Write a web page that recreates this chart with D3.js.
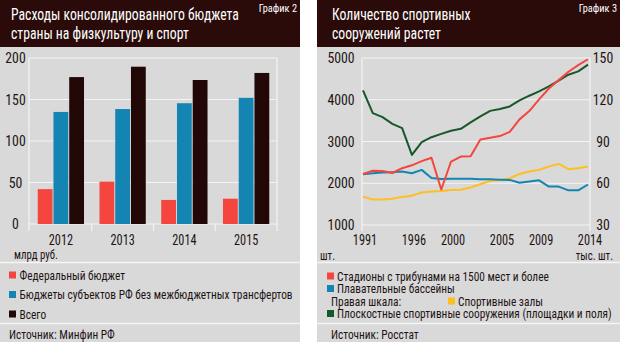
<!DOCTYPE html>
<html>
<head>
<meta charset="utf-8">
<script src="https://cdn.jsdelivr.net/npm/d3@7"></script>
<style>
  html, body { margin: 0; padding: 0; background: #ffffff; }
  svg { display: block; }
  text { font-family: "Liberation Sans Narrow", "Roboto Condensed", "DejaVu Sans Condensed", "Arial Narrow", sans-serif; }
</style>
</head>
<body>
<svg id="chart" width="620" height="342"></svg>
<script>
// ---- Chart 2: consolidated budget spending on sport, bn rub ----
const budgetYears = ["2012", "2013", "2014", "2015"];
const federalBudget = [42, 51, 29, 30.5];
const regionalBudget = [135, 138.5, 145.5, 152];
const totalBudget = [177, 189.5, 173.5, 182];
const budgetTicks = [0, 50, 100, 150, 200];
const budgetSeries = ["Федеральный бюджет", "Бюджеты субъектов РФ без межбюджетных трансфертов", "Всего"];

// ---- Chart 3: number of sports facilities ----
const facilityYears = [1991, 1992, 1993, 1994, 1995, 1996, 1997, 1998, 1999, 2000, 2001, 2002,
                       2003, 2004, 2005, 2006, 2007, 2008, 2009, 2010, 2011, 2012, 2013, 2014];
const stadiums = [2220, 2300, 2295, 2245, 2360, 2430, 2530, 2610, 1850, 2520, 2640, 2645,
                  3050, 3090, 3130, 3230, 3530, 3730, 4010, 4270, 4470, 4670, 4830, 4970];
const pools = [2215, 2240, 2255, 2265, 2280, 2240, 2320, 2125, 2100, 2105, 2105, 2105,
               2095, 2095, 2085, 2080, 2010, 2040, 2070, 1920, 1920, 1830, 1830, 1970];
// right scale, thousands
const sportsHalls = [50.4, 48.3, 48.3, 48.8, 50.2, 51.1, 53.3, 54.0, 54.5, 55.2, 55.3, 56.9,
                     59.3, 61.6, 62.4, 63.6, 66.7, 68.4, 69.6, 72.0, 73.9, 70.1, 70.8, 72.0];
const flatFacilities = [126.7, 110.4, 107.5, 102.7, 99.6, 80.4, 89.5, 93.1, 95.5, 97.7, 99.1, 103.7,
                        108.0, 112.0, 113.3, 115.2, 119.5, 122.9, 126.0, 129.6, 133.7, 138.0, 140.4, 145.2];
const facilityYearTicks = [1991, 1996, 2000, 2005, 2009, 2014];
const leftFacilityTicks = [1000, 2000, 3000, 4000, 5000];
const rightFacilityTicks = [30, 60, 90, 120, 150];

const C = {
  header: "#2a0b09",
  panel: "#d9d9d9",
  grid: "#f4f4f4",
  red: "#f4463f",
  blue: "#1485b2",
  dark: "#210706",
  yellow: "#fdbf22",
  green: "#17582b",
  text: "#1e1414"
};

const svg = d3.select("#chart");

// Text helper: the newspaper face is narrower than the available condensed fonts,
// so labels are squeezed horizontally by `sx`.
function label(g, x, y, str, size, opts = {}) {
  const sx = opts.sx ?? 1;
  return g.append("text")
    .attr("transform", `translate(${x},${y}) scale(${sx},1)`)
    .attr("text-anchor", opts.anchor || "start")
    .attr("font-size", size)
    .attr("fill", opts.fill || C.text)
    .text(str);
}

function panel(g, x, w, title, tag) {
  g.append("rect").attr("x", x).attr("y", 0).attr("width", w).attr("height", 342).attr("fill", C.panel);
  g.append("rect").attr("x", x).attr("y", 0).attr("width", w).attr("height", 47).attr("fill", C.header);
  title.forEach((line, i) => {
    label(g, x + (x > 0 ? 15 : 11), 20 + i * 19, line, 16.5, { sx: 0.83, fill: "#ffffff" });
  });
  label(g, x + w - 3, 12, tag, 11.5, { sx: 0.9, fill: "#ffffff", anchor: "end" });
  g.append("line").attr("x1", x).attr("x2", x + w).attr("y1", 262.5).attr("y2", 262.5)
    .attr("stroke", "#f6f6f6").attr("stroke-width", 1.5);
  g.append("line").attr("x1", x).attr("x2", x + w).attr("y1", 323.5).attr("y2", 323.5)
    .attr("stroke", "#f6f6f6").attr("stroke-width", 1.5);
}

// ===== Left panel: grouped bars =====
const gL = svg.append("g");
panel(gL, 0, 300, ["Расходы консолидированного бюджета", "страны на физкультуру и спорт"], "График 2");

const yB = d3.scaleLinear().domain([0, 200]).range([224, 58]);
const xB = d3.scaleBand().domain(budgetYears).range([30, 277]).paddingInner(0.22).paddingOuter(0.11);
const xInner = d3.scaleBand().domain([0, 1, 2]).range([0, xB.bandwidth()]).padding(0.06);

budgetTicks.forEach(t => {
  gL.append("line").attr("x1", 29).attr("x2", 277).attr("y1", yB(t)).attr("y2", yB(t))
    .attr("stroke", C.grid).attr("stroke-width", 1.2);
  label(gL, 15.5, yB(t) + 5, t, 14.5, { anchor: "middle", sx: 0.95 });
});
// frame and separators between years
[29, 277].forEach(px => {
  gL.append("line").attr("x1", px).attr("x2", px).attr("y1", yB(200)).attr("y2", 231)
    .attr("stroke", C.grid).attr("stroke-width", 1.2);
});
budgetYears.slice(1).forEach(yr => {
  const sx = xB(yr) - xB.step() * xB.paddingInner() / 2;
  gL.append("line").attr("x1", sx).attr("x2", sx).attr("y1", 224).attr("y2", 231)
    .attr("stroke", C.grid).attr("stroke-width", 1.2);
});

const budgetData = [federalBudget, regionalBudget, totalBudget];
const budgetColors = [C.red, C.blue, C.dark];
budgetYears.forEach((yr, i) => {
  budgetData.forEach((arr, s) => {
    gL.append("rect")
      .attr("x", xB(yr) + xInner(s)).attr("width", xInner.bandwidth())
      .attr("y", yB(arr[i])).attr("height", yB(0) - yB(arr[i]))
      .attr("fill", budgetColors[s]);
  });
  label(gL, xB(yr) + xB.bandwidth() / 2, 245, yr, 14, { anchor: "middle", sx: 0.88 });
});
label(gL, 14, 258.5, "млрд руб.", 12, { sx: 0.9 });

budgetSeries.forEach((name, i) => {
  const cy = 275 + i * 19.5;
  gL.append("rect").attr("x", 9).attr("y", cy - 3.5).attr("width", 7).attr("height", 7).attr("fill", budgetColors[i]);
  label(gL, 19.5, cy + 4.5, name, 12.5, { sx: 0.91 });
});
label(gL, 9, 339, "Источник: Минфин РФ", 12.5, { sx: 0.91 });

// ===== Right panel: lines with dual axes =====
const gR = svg.append("g");
panel(gR, 317, 303, ["Количество спортивных", "сооружений растет"], "График 3");

const xF = d3.scaleLinear().domain([1991, 2014]).range([363, 588]);
const yLeft = d3.scaleLinear().domain([1000, 5000]).range([225, 58]);
const yRight = d3.scaleLinear().domain([30, 150]).range([225, 58]);

leftFacilityTicks.forEach(t => {
  gR.append("line").attr("x1", 362).attr("x2", 590).attr("y1", yLeft(t)).attr("y2", yLeft(t))
    .attr("stroke", C.grid).attr("stroke-width", 1.2);
  label(gR, 341, yLeft(t) + 5, t, 14.5, { anchor: "middle", sx: 0.95 });
});
rightFacilityTicks.forEach(t => {
  label(gR, 603, yRight(t) + 5, t, 14.5, { anchor: "middle", sx: 0.95 });
});
[362, 590].forEach(px => {
  gR.append("line").attr("x1", px).attr("x2", px).attr("y1", 58).attr("y2", 231)
    .attr("stroke", C.grid).attr("stroke-width", 1.2);
});
facilityYearTicks.forEach(yr => {
  label(gR, xF(yr) + 2, 245, yr, 14, { anchor: "middle", sx: 0.88 });
});
label(gR, 320, 259.5, "шт.", 12, { sx: 0.9 });
label(gR, 613, 259.5, "тыс. шт.", 12, { sx: 0.9, anchor: "end" });

function drawLine(values, yScale, color) {
  const line = d3.line().x((d, i) => xF(facilityYears[i])).y(d => yScale(d));
  gR.append("path").datum(values).attr("d", line).attr("fill", "none")
    .attr("stroke", color).attr("stroke-width", 2).attr("stroke-linejoin", "round");
}
drawLine(sportsHalls, yRight, C.yellow);
drawLine(pools, yLeft, C.blue);
drawLine(flatFacilities, yRight, C.green);
drawLine(stadiums, yLeft, C.red);

// legend
const legend = [
  { name: "Стадионы с трибунами на 1500 мест и более", color: C.red, x: 327, y: 276 },
  { name: "Плавательные бассейны", color: C.blue, x: 327, y: 288.5 },
  { name: "Спортивные залы", color: C.yellow, x: 448, y: 301 },
  { name: "Плоскостные спортивные сооружения (площадки и поля)", color: C.green, x: 327, y: 313.5 }
];
legend.forEach(l => {
  gR.append("rect").attr("x", l.x).attr("y", l.y - 3.5).attr("width", 7).attr("height", 7).attr("fill", l.color);
  label(gR, l.x + 10, l.y + 4.5, l.name, 12.5, { sx: 0.91 });
});
label(gR, 331, 305.5, "Правая шкала:", 12.5, { sx: 0.91 });
label(gR, 331, 339, "Источник: Росстат", 12.5, { sx: 0.91 });
</script>
</body>
</html>
